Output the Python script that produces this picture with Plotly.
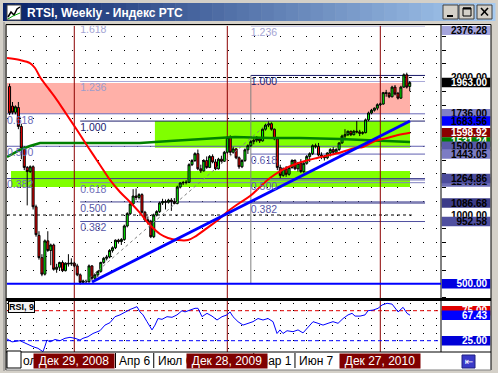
import plotly.graph_objects as go

W, H = 498, 373


def px(x):
    return x / W


def py(y):
    return 1 - y / H


# ---------------- data ----------------
bar_index = list(range(137))
opens = [1935, 1792, 1747, 1782, 1644, 1486, 1346, 1316, 1351, 1060,
         852, 690, 570, 812, 742, 782, 605, 620, 655, 595,
         650, 645, 650, 630, 565, 510, 520, 515, 630, 540,
         565, 590, 655, 685, 695, 742, 762, 817, 807, 822,
         920, 1010, 1080, 1138, 1128, 1148, 1020, 965, 955, 842,
         1000, 1025, 1088, 1098, 1093, 1108, 1098, 1083, 1203, 1233,
         1236, 1238, 1366, 1396, 1446, 1336, 1321, 1396, 1346, 1426,
         1386, 1336, 1406, 1391, 1456, 1564, 1456, 1481, 1416, 1351,
         1396, 1474, 1504, 1534, 1544, 1554, 1539, 1624, 1654, 1664,
         1624, 1554, 1346, 1288, 1336, 1296, 1346, 1396, 1336, 1376,
         1316, 1376, 1426, 1446, 1504, 1499, 1436, 1426, 1416, 1451,
         1476, 1456, 1476, 1524, 1574, 1584, 1609, 1584, 1609, 1604,
         1594, 1599, 1692, 1742, 1762, 1777, 1802, 1807, 1890, 1885,
         1860, 1930, 1885, 1850, 1930, 2020, 1935]
highs = [1955, 1822, 1797, 1822, 1664, 1501, 1356, 1361, 1361, 1075,
         882, 715, 822, 882, 792, 792, 645, 660, 670, 655,
         715, 685, 660, 645, 575, 530, 530, 640, 635, 570,
         595, 660, 695, 710, 752, 772, 822, 827, 832, 930,
         1020, 1090, 1188, 1193, 1158, 1158, 1030, 990, 965, 1010,
         1035, 1098, 1118, 1113, 1118, 1123, 1123, 1213, 1238, 1248,
         1253, 1376, 1406, 1456, 1476, 1366, 1406, 1426, 1436, 1441,
         1406, 1416, 1431, 1466, 1574, 1579, 1496, 1486, 1426, 1406,
         1484, 1514, 1544, 1559, 1574, 1564, 1634, 1664, 1680, 1674,
         1629, 1564, 1366, 1346, 1356, 1356, 1406, 1406, 1386, 1406,
         1386, 1436, 1456, 1514, 1519, 1524, 1456, 1436, 1456, 1486,
         1494, 1486, 1529, 1584, 1624, 1614, 1614, 1619, 1684, 1619,
         1609, 1702, 1752, 1772, 1782, 1812, 1817, 1895, 1910, 1895,
         1940, 1945, 1895, 1940, 2030, 2035, 1975]
lows = [1727, 1732, 1732, 1624, 1406, 1326, 1070, 1306, 1040, 842,
        675, 555, 560, 732, 635, 595, 580, 595, 585, 590,
        625, 630, 620, 555, 494, 500, 503, 507, 525, 530,
        550, 580, 645, 670, 685, 727, 752, 792, 782, 812,
        910, 1000, 1070, 1108, 1113, 1010, 950, 930, 832, 832,
        990, 1015, 1073, 1040, 1083, 1030, 1078, 1078, 1193, 1218,
        1223, 1233, 1356, 1386, 1326, 1306, 1316, 1336, 1341, 1376,
        1326, 1331, 1381, 1386, 1446, 1436, 1446, 1406, 1336, 1341,
        1386, 1444, 1494, 1514, 1529, 1524, 1534, 1614, 1639, 1614,
        1544, 1326, 1268, 1278, 1278, 1286, 1336, 1326, 1316, 1306,
        1306, 1366, 1386, 1436, 1484, 1426, 1406, 1396, 1406, 1426,
        1436, 1446, 1466, 1519, 1544, 1574, 1574, 1579, 1594, 1574,
        1584, 1594, 1682, 1732, 1752, 1762, 1792, 1802, 1860, 1850,
        1855, 1870, 1840, 1845, 1925, 1920, 1900]
closes = [1742, 1747, 1787, 1644, 1486, 1346, 1316, 1351, 1060, 857,
          690, 570, 812, 742, 782, 605, 620, 655, 595, 650,
          645, 650, 630, 565, 510, 520, 515, 630, 540, 565,
          590, 655, 685, 695, 742, 762, 817, 807, 822, 920,
          1010, 1080, 1138, 1128, 1148, 1020, 965, 955, 842, 1000,
          1025, 1088, 1098, 1093, 1108, 1098, 1083, 1203, 1233, 1236,
          1238, 1366, 1396, 1446, 1336, 1321, 1396, 1346, 1426, 1386,
          1336, 1406, 1391, 1456, 1564, 1456, 1481, 1416, 1351, 1396,
          1474, 1504, 1534, 1544, 1554, 1539, 1624, 1654, 1664, 1624,
          1554, 1346, 1288, 1336, 1296, 1346, 1396, 1336, 1376, 1316,
          1376, 1426, 1446, 1504, 1499, 1436, 1426, 1416, 1451, 1476,
          1456, 1476, 1524, 1574, 1584, 1609, 1584, 1609, 1604, 1594,
          1599, 1692, 1742, 1762, 1777, 1802, 1807, 1890, 1885, 1860,
          1930, 1880, 1850, 1930, 2020, 1930, 1963]

# moving averages (bar index, price)
red_ma_x = [-0.87, 3.54, 6.94, 8.64, 10.34, 13.06, 16.12, 19.52, 22.92, 26.66,
            30.73, 34.13, 37.53, 40.93, 44.33, 47.73, 51.13, 53.85, 57.24, 60.64,
            63.36, 67.10, 70.84, 73.90, 77.64, 81.72, 85.12, 88.51, 92.59, 96.34,
            100.41, 104.49, 108.91, 112.99, 117.42, 120.13, 124.21, 128.30, 132.04, 136.12]
red_ma_y = [2142, 2127, 2105, 2069, 2004, 1924, 1836, 1727, 1618, 1495,
            1364, 1255, 1167, 1095, 1015, 927, 862, 833, 818, 818,
            847, 905, 964, 1022, 1080, 1138, 1204, 1269, 1327, 1364,
            1393, 1415, 1436, 1458, 1487, 1495, 1538, 1560, 1582, 1598.92]
green_ma_x = [-0.87, 3.54, 6.94, 10.34, 27.34, 44.33, 54.53, 64.72, 76.62, 88.51,
              98.7, 112.3, 125.9, 136.1]
green_ma_y = [1422, 1473, 1502, 1524, 1524, 1524, 1538, 1553, 1567, 1560,
              1560, 1553, 1538, 1531]

trend_x = [28.0, 136.1]
trend_y = [512.7, 1683.56]
fib_diag_x = [25.6, 88.5]
fib_diag_y = [512.7, 1680.0]

rsi_x = [-0.87, 0.83, 3.54, 5.92, 7.96, 9.66, 11.36, 12.04, 12.72, 13.74,
         15.44, 17.14, 18.84, 20.54, 22.24, 23.94, 24.95, 26.65, 28.35, 30.73,
         32.43, 34.13, 35.83, 37.53, 39.23, 40.93, 41.95, 43.31, 44.33, 45.35,
         46.71, 48.41, 49.43, 50.45, 51.81, 53.51, 55.21, 56.91, 58.61, 59.63,
         61.33, 63.03, 64.04, 65.40, 67.10, 68.80, 70.50, 72.20, 73.90, 74.92,
         75.94, 77.64, 79.34, 81.04, 82.74, 84.44, 86.14, 87.84, 89.54, 90.90,
         91.92, 92.94, 94.30, 96.34, 98.04, 99.74, 101.44, 103.14, 104.84, 106.54,
         108.24, 109.94, 111.64, 113.34, 115.04, 116.40, 117.42, 119.12, 120.82, 121.84,
         123.54, 125.24, 126.60, 128.30, 130.00, 131.02, 132.04, 133.74, 135.10, 136.12]
rsi_y = [28, 23, 25, 19.5, 15, 12.3, 6.7, 16, 26, 23,
         27, 25, 29, 30.6, 29, 26, 29, 31.7, 37, 41.7,
         51, 55, 65, 68, 73, 77, 79, 81.7, 73, 68,
         56.7, 43, 51, 62, 60.6, 65, 64, 68, 75, 73,
         76, 79, 79, 65, 70.6, 66, 59.5, 65, 68, 73,
         65, 56.7, 51, 54, 56.7, 62, 59.5, 62, 56.7, 37,
         43, 37, 41.6, 40, 43, 38, 48, 56.7, 54, 51,
         54, 56.7, 54, 62, 68, 70.6, 66, 66, 68, 75,
         76, 79, 84.5, 87.3, 86, 79, 73, 80.6, 70.6, 67.43]
rsi_levels = [75, 25]

# Fibonacci sets: level names and prices
fibA_names = ["0.618", "0.500", "0.382"]
fibA_prices = [1736.00, 1500.00, 1264.86]
fibB_names = ["1.618", "1.236", "1.000", "0.618", "0.500", "0.382"]
fibB_prices = [2392, 1971, 1683, 1235, 1095, 952.58]
fibC_names = ["1.236", "1.000", "0.618", "0.500", "0.382"]
fibC_prices = [2374, 2015, 1443.05, 1255, 1086.68]
fib_start = [-0.87, 24, 82]
fib_end = 141.2

# rectangles (bar from, bar to, price low, price high)
pink_zone = [-0.87, 136.1, 1736.0, 1960.0]
green_zone_1 = [49.4, 136.1, 1490.0, 1683.56]
green_zone_2 = [0.5, 136.1, 1204.0, 1320.0]

hline_dotted = [2000.0, 1000.0]
hline_blue = 500.0

year_line_idx = [22, 74, 126]
year_line_text = ["Дек 29, 2008", "Дек 28, 2009", "Дек 27, 2010"]
time_tick_idx = [36, 49, 83, 97]
time_tick_text = ["Апр 6", "Июл 6", "Мар 1", "Июн 7"]

top_price = 2376.28
price_label_text = ["2376.28", "2000.00", "1963.00", "1736.00", "1683.56", "1598.92",
                    "1531.24", "1500.00", "1443.05", "1240.81", "1264.86", "1086.68",
                    "1000.00", "952.58", "500.00"]
price_label_value = [top_price, 2000.00, 1963.00, 1736.00, 1683.56, 1598.92,
                     1531.24, 1500.00, 1443.05, 1240.81, 1264.86, 1086.68,
                     1000.00, 952.58, 500.00]
rsi_label_text = ["75.00", "67.43", "25.00"]
rsi_label_value = [75.00, 67.43, 25.00]

# ---------------- styles ----------------
price_label_bg = ["#a4a4dc", "#ffffff", "#000000", "#8080c8", "#0000ff", "#8b0000",
                  "#008000", "#5a5aa8", "#7c7cc4", "#6e6eb8", "#4c4c9c", "#3c3c88",
                  "#ffffff", "#5050a0", "#0000e0"]
price_label_fg = ["#000000", "#000000", "#ffffff", "#000000", "#000000", "#ffffff",
                  "#ffffff", "#000000", "#000000", "#000000", "#000000", "#000000",
                  "#000000", "#000000", "#ffffff"]
rsi_label_bg = ["#e00000", "#0000ff", "#0000d8"]

fibA_line = ["#6a6ab8", "#6060b0", "#3c3c8c"]
fibB_line = ["#a8a8d8", "#a8a8d8", "#20206e", "#8080c0", "#404090", "#5050a0"]
fibC_line = ["#a8a8d8", "#1a1a6a", "#6060b0", "#6a6ab5", "#404090"]
fibA_text = ["#6a6ab8", "#6a6ab8", "#6a6ab8"]
fibB_text = ["#a4a4d4", "#9c9ccc", "#1c1c70", "#7070b8", "#5555a5", "#5555a5"]
fibC_text = ["#a4a4d4", "#1c1c70", "#6060b0", "#6060b0", "#5555a5"]

X_LO, X_HI = -0.87, 146.63
Y_LO, Y_HI = 396.4, top_price
R_LO, R_HI = 6.17, 91.17
PRICE_PER_PX = (Y_HI - Y_LO) / (298 - 25.76)
RSI_PER_PX = (R_HI - R_LO) / (352 - 301)
FONT = "Liberation Sans"

fig = go.Figure()

fig.add_trace(go.Candlestick(
    x=bar_index, open=opens, high=highs, low=lows, close=closes,
    increasing=dict(line=dict(color="#000000", width=1), fillcolor="#00ff00"),
    decreasing=dict(line=dict(color="#000000", width=1), fillcolor="#ff0000"),
    whiskerwidth=0, hoverinfo="skip", xaxis="x", yaxis="y"))

fig.add_trace(go.Scatter(x=green_ma_x, y=green_ma_y, mode="lines",
                         line=dict(color="#008000", width=2.5), hoverinfo="skip"))
fig.add_trace(go.Scatter(x=red_ma_x, y=red_ma_y, mode="lines",
                         line=dict(color="#ff0000", width=2, shape="spline"), hoverinfo="skip"))
fig.add_trace(go.Scatter(x=trend_x, y=trend_y, mode="lines",
                         line=dict(color="#0000ff", width=3), hoverinfo="skip"))
fig.add_trace(go.Scatter(x=fib_diag_x, y=fib_diag_y, mode="lines",
                         line=dict(color="#808080", width=1, dash="dot"), hoverinfo="skip"))

# fib labels (clipped to plot area), placed just under their level line
LABEL_DROP = 2 * PRICE_PER_PX
for names, prices, start, cols in [(fibA_names, fibA_prices, fib_start[0], fibA_text),
                                   (fibB_names, fibB_prices, fib_start[1], fibB_text),
                                   (fibC_names, fibC_prices, fib_start[2], fibC_text)]:
    fig.add_trace(go.Scatter(x=[start] * len(prices), y=[p - LABEL_DROP for p in prices],
                             text=names, mode="text",
                             textposition="bottom right", cliponaxis=True,
                             textfont=dict(family=FONT, size=10.5, color=cols),
                             hoverinfo="skip"))

fig.add_trace(go.Scatter(x=rsi_x, y=rsi_y, mode="lines", xaxis="x2", yaxis="y2",
                         line=dict(color="#0000ff", width=1), hoverinfo="skip"))

# price-scale labels as boxes in the right column (drawn in order, later on top)
label_centres = [v if v < top_price else v - 4.6 * PRICE_PER_PX for v in price_label_value]
fig.add_trace(go.Bar(
    x=[1] * len(label_centres), y=label_centres, base=0, orientation="h",
    width=9.5 * PRICE_PER_PX, xaxis="x3", yaxis="y3",
    marker=dict(color=price_label_bg, line=dict(width=0)),
    text=price_label_text, textposition="inside", insidetextanchor="end",
    constraintext="none", cliponaxis=False,
    textfont=dict(family=FONT, size=10, color=price_label_fg, weight="bold"),
    hoverinfo="skip"))
fig.add_trace(go.Bar(
    x=[1] * len(rsi_label_value), y=rsi_label_value, base=0, orientation="h",
    width=9.5 * RSI_PER_PX, xaxis="x4", yaxis="y4",
    marker=dict(color=rsi_label_bg, line=dict(width=0)),
    text=rsi_label_text, textposition="inside", insidetextanchor="end",
    constraintext="none", cliponaxis=False,
    textfont=dict(family=FONT, size=10, color="#ffffff", weight="bold"),
    hoverinfo="skip"))

shapes = []


def prect(x0, y0, x1, y1, fill, line=None, lw=0, layer="below"):
    shapes.append(dict(type="rect", xref="paper", yref="paper",
                       x0=px(x0), x1=px(x1), y0=py(y1), y1=py(y0),
                       fillcolor=fill, line=dict(color=line or fill, width=lw), layer=layer))


def pline(x0, y0, x1, y1, color, w=1, layer="above"):
    shapes.append(dict(type="line", xref="paper", yref="paper",
                       x0=px(x0), x1=px(x1), y0=py(y0), y1=py(y1),
                       line=dict(color=color, width=w), layer=layer))


# title bar gradient
c0, c1 = (10, 36, 106), (166, 202, 240)
n = 40
for k in range(n):
    t = k / (n - 1)
    col = "rgb(%d,%d,%d)" % tuple(round(a + (b - a) * t) for a, b in zip(c0, c1))
    xa = 3 + (495 - 3) * k / n
    xb = 3 + (495 - 3) * (k + 1) / n + 0.5
    prect(xa, 3, xb, 21, col)
# title icon
prect(7, 5, 21, 20, "#ffffff", "#404040", 1)
shapes.append(dict(type="path", xref="paper", yref="paper",
                   path="M %f,%f L %f,%f L %f,%f L %f,%f L %f,%f" % (
                       px(8), py(17), px(11), py(12), px(14), py(15), px(17), py(9), px(20), py(7)),
                   line=dict(color="#000000", width=1.5), layer="above"))
shapes.append(dict(type="path", xref="paper", yref="paper",
                   path="M %f,%f L %f,%f L %f,%f" % (px(8), py(19), px(13), py(16), px(20), py(13)),
                   line=dict(color="#00a000", width=1), layer="above"))
# title buttons
for bx0, bx1 in [(443, 458), (459, 474), (477, 492)]:
    prect(bx0, 5, bx1, 19, "#d4d0c8", "#404040", 1, layer="above")
pline(447, 16, 453, 16, "#000000", 2)
prect(463, 8, 471, 16, "rgba(0,0,0,0)", "#000000", 1, layer="above")
pline(463, 8.5, 471, 8.5, "#000000", 2)
pline(481, 8, 488, 15.5, "#000000", 1.6)
pline(481, 15.5, 488, 8, "#000000", 1.6)

# right axis white area and time row
prect(441, 25, 491, 370, "#ffffff")
prect(6, 352, 441, 370, "#ffffff")
# borders
prect(6, 298, 491, 301, "#000000", layer="above")
pline(4, 22, 4, 371, "#808080", 1)
pline(6, 24.5, 491, 24.5, "#000000", 1)
pline(6, 24.5, 6, 370, "#000000", 1)
pline(491, 24.5, 491, 370, "#000000", 1)
pline(441, 25, 441, 352, "#000000", 1)
pline(6, 352, 491, 352, "#000000", 1)
pline(6, 370, 491, 370, "#808080", 1)
# little white box at bottom-left of time row
prect(7, 351, 21, 368, "#ffffff", "#000000", 1, layer="above")
# shift-chart button
prect(462, 355, 475, 368, "#3a3ac8", "#202080", 1, layer="above")

# data-anchored shapes in the main chart
for x0, x1, p0, p1, col in [(pink_zone[0], pink_zone[1], pink_zone[2], pink_zone[3], "#ffb0a8"),
                            (green_zone_1[0], green_zone_1[1], green_zone_1[2], green_zone_1[3], "#80ff00"),
                            (green_zone_2[0], green_zone_2[1], green_zone_2[2], green_zone_2[3], "#80ff00")]:
    shapes.append(dict(type="rect", xref="x", yref="y", x0=x0, x1=x1, y0=p0, y1=p1,
                       fillcolor=col, line=dict(width=0), layer="between"))

for prices, start, cols in [(fibA_prices, fib_start[0], fibA_line),
                            (fibB_prices, fib_start[1], fibB_line),
                            (fibC_prices, fib_start[2], fibC_line)]:
    for p, c in zip(prices, cols):
        shapes.append(dict(type="line", xref="x", yref="y", x0=start, x1=fib_end, y0=p, y1=p,
                           line=dict(color=c, width=1), layer="between"))

shapes.append(dict(type="line", xref="x", yref="y", x0=fib_start[2], x1=fib_start[2],
                   y0=hline_blue, y1=fibC_prices[1], line=dict(color="#808080", width=1),
                   layer="between"))
for p in hline_dotted:
    shapes.append(dict(type="line", xref="x", yref="y", x0=X_LO, x1=136.7, y0=p, y1=p,
                       line=dict(color="#000000", width=1, dash="dot"), layer="between"))
for i in year_line_idx:
    shapes.append(dict(type="line", xref="x", yref="y", x0=i, x1=i, y0=Y_LO, y1=Y_HI,
                       line=dict(color="#8b0000", width=1), layer="between"))
    shapes.append(dict(type="line", xref="x2", yref="y2", x0=i, x1=i, y0=R_LO, y1=R_HI,
                       line=dict(color="#8b0000", width=1), layer="between"))
shapes.append(dict(type="line", xref="x", yref="y", x0=X_LO, x1=X_HI, y0=hline_blue, y1=hline_blue,
                   line=dict(color="#0000ff", width=2), layer="above"))
# RSI levels
for lv, c in zip(rsi_levels, ["#e00000", "#0000ff"]):
    shapes.append(dict(type="line", xref="x2", yref="y2", x0=X_LO, x1=X_HI, y0=lv, y1=lv,
                       line=dict(color=c, width=1, dash="4px,3px"), layer="between"))
# time tick separators
for i in time_tick_idx:
    shapes.append(dict(type="line", xref="x", yref="paper", x0=i, x1=i, y0=py(368), y1=py(353),
                       line=dict(color="#000000", width=1), layer="above"))

annotations = []
annotations.append(dict(xref="paper", yref="paper", x=px(25), y=py(12.5), xanchor="left",
                        yanchor="middle", showarrow=False,
                        text="<b>RTSI, Weekly - Индекс РТС</b>",
                        font=dict(family=FONT, size=12, color="#ffffff")))
# RSI title
annotations.append(dict(xref="paper", yref="paper", x=px(8), y=py(306.5), xanchor="left",
                        yanchor="middle", showarrow=False, text="<b>RSI, 9</b>",
                        bgcolor="#f4f4f4", bordercolor="#000000", borderwidth=1, borderpad=0,
                        font=dict(family=FONT, size=9, color="#000000")))
# time axis labels
annotations.append(dict(xref="paper", yref="paper", x=px(21), y=py(361), xanchor="left",
                        yanchor="middle", showarrow=False, text="ол",
                        font=dict(family=FONT, size=12, color="#000000")))
for i, t in zip(time_tick_idx, time_tick_text):
    annotations.append(dict(xref="x", yref="paper", x=i, y=py(361), xanchor="left",
                            yanchor="middle", xshift=2, showarrow=False, text=t,
                            font=dict(family=FONT, size=12, color="#000000")))
for i, t in zip(year_line_idx, year_line_text):
    annotations.append(dict(xref="x", yref="paper", x=i, y=py(360.5), xanchor="center",
                            yanchor="middle", showarrow=False, text=t, bgcolor="#800000",
                            width=80, height=14, borderpad=0,
                            font=dict(family=FONT, size=12, color="#ffffff")))
annotations.append(dict(xref="paper", yref="paper", x=px(468.5), y=py(361.5), xanchor="center",
                        yanchor="middle", showarrow=False, text="⇤",
                        font=dict(family="DejaVu Sans", size=10, color="#ffffff")))

hidden = dict(showgrid=False, zeroline=False, showticklabels=False, ticks="",
              showline=False, fixedrange=True)
fig.update_layout(
    width=W, height=H, autosize=False,
    margin=dict(l=0, r=0, t=0, b=0),
    paper_bgcolor="#d4d0c8", plot_bgcolor="#ffffff",
    showlegend=False, hovermode=False, boxgap=0.02, barmode="overlay",
    shapes=shapes, annotations=annotations,
    xaxis=dict(domain=[px(7), px(441)], range=[X_LO, X_HI], rangeslider=dict(visible=False),
               anchor="y", **hidden),
    xaxis2=dict(domain=[px(7), px(441)], range=[X_LO, X_HI], anchor="y2", matches="x", **hidden),
    xaxis3=dict(domain=[px(441.5), px(490.5)], range=[0, 1], anchor="y3", **hidden),
    xaxis4=dict(domain=[px(441.5), px(490.5)], range=[0, 1], anchor="y4", **hidden),
    yaxis=dict(domain=[py(298), py(25.76)], range=[Y_LO, Y_HI], side="right", anchor="x",
               showgrid=True, gridcolor="#000000", gridwidth=1, griddash="1px,12px",
               tick0=0, dtick=100, ticks="outside", ticklen=4, tickcolor="#000000",
               showticklabels=False, zeroline=False, showline=False, fixedrange=True),
    yaxis2=dict(domain=[py(352), py(301)], range=[R_LO, R_HI], side="right", anchor="x2",
                showgrid=True, gridcolor="#000000", gridwidth=1, griddash="1px,12px",
                tick0=0, dtick=12.5, ticks="", showticklabels=False, zeroline=False,
                showline=False, fixedrange=True),
    yaxis3=dict(domain=[py(298), py(25.76)], range=[Y_LO, Y_HI], anchor="x3", **hidden),
    yaxis4=dict(domain=[py(352), py(301)], range=[R_LO, R_HI], anchor="x4", **hidden),
)

html = fig.to_html(full_html=True, include_plotlyjs=True,
                   config={"displayModeBar": False, "staticPlot": True})
html = html.replace("<head>", "<head><style>html,body{margin:0;padding:0;overflow:hidden;}</style>", 1)
with open("out.html", "w", encoding="utf-8") as f:
    f.write(html)
